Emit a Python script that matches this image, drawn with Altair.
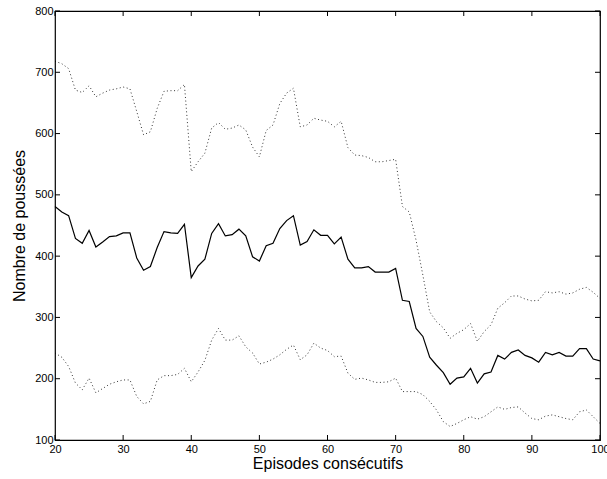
import altair as alt
import pandas as pd

episodes = list(range(20, 101))

mean_vals = [481, 472, 466, 429, 421, 442, 415, 423, 432, 433, 438, 438, 397, 377, 383, 414,
             440, 438, 437, 452, 365, 384, 395, 437, 453, 433, 435, 444, 433, 399, 392, 417,
             421, 445, 458, 466, 418, 424, 443, 434, 434, 420, 431, 395, 381, 381, 383, 374,
             374, 374, 380, 328, 326, 282, 269, 235, 222, 210, 191, 201, 203, 217, 193, 208,
             211, 238, 232, 243, 247, 238, 234, 227, 243, 239, 243, 237, 237, 249, 249, 232, 229]

upper_vals = [718, 714, 706, 671, 667, 678, 660, 666, 671, 673, 676, 673, 636, 598, 603, 641,
              669, 670, 670, 680, 538, 554, 568, 609, 618, 607, 609, 614, 606, 578, 562, 605,
              614, 649, 666, 674, 611, 614, 625, 622, 620, 611, 620, 577, 565, 564, 561, 554,
              554, 556, 558, 481, 472, 426, 369, 309, 293, 283, 266, 274, 280, 290, 261, 277,
              288, 315, 324, 335, 335, 330, 327, 328, 342, 340, 342, 338, 340, 346, 349, 341, 331]

lower_vals = [242, 235, 220, 193, 182, 201, 177, 184, 191, 195, 198, 198, 171, 159, 163, 198,
              205, 205, 207, 217, 195, 211, 230, 263, 282, 263, 263, 270, 252, 242, 224, 227,
              232, 239, 248, 255, 231, 239, 258, 250, 246, 236, 237, 209, 199, 201, 198, 194,
              194, 195, 201, 179, 179, 179, 174, 163, 149, 130, 122, 127, 133, 138, 134, 138,
              146, 154, 150, 153, 154, 144, 135, 133, 139, 141, 138, 135, 133, 146, 149, 138, 127]

x_ticks = [20, 30, 40, 50, 60, 70, 80, 90, 100]
y_ticks = [100, 200, 300, 400, 500, 600, 700, 800]

W, H = 545, 429
FONT = "Liberation Sans"

df = pd.DataFrame({"ep": episodes, "mean": mean_vals, "upper": upper_vals, "lower": lower_vals})
xt = pd.DataFrame({"t": x_ticks})
yt = pd.DataFrame({"t": y_ticks})

xscale = alt.Scale(domain=[20, 100], nice=False, zero=False)
yscale = alt.Scale(domain=[100, 800], nice=False, zero=False)

xaxis = alt.Axis(values=x_ticks, title="Episodes consécutifs", grid=False, domain=False,
                 ticks=False, labelPadding=3, labelFontSize=11, labelFont=FONT,
                 titleFont=FONT, titleFontSize=16, titleFontWeight="normal", titlePadding=1,
                 labelColor="black", titleColor="black", labelFlush=False)
yaxis = alt.Axis(values=y_ticks, title="Nombre de poussées", grid=False, domain=False,
                 ticks=False, labelPadding=2, labelFontSize=11, labelFont=FONT,
                 titleFont=FONT, titleFontSize=16, titleFontWeight="normal", titlePadding=7,
                 labelColor="black", titleColor="black")

base = alt.Chart(df)

mean_line = base.mark_line(color="black", strokeWidth=1.2).encode(
    x=alt.X("ep:Q", scale=xscale, axis=xaxis),
    y=alt.Y("mean:Q", scale=yscale, axis=yaxis),
)
upper_line = base.mark_line(color="black", strokeWidth=1, strokeDash=[1, 2.6], opacity=0.8).encode(
    x=alt.X("ep:Q", scale=xscale), y=alt.Y("upper:Q", scale=yscale))
lower_line = base.mark_line(color="black", strokeWidth=1, strokeDash=[1, 2.6], opacity=0.8).encode(
    x=alt.X("ep:Q", scale=xscale), y=alt.Y("lower:Q", scale=yscale))

tick_len = 5
bottom_ticks = alt.Chart(xt).mark_rule(color="black", strokeWidth=1).encode(
    x=alt.X("t:Q", scale=xscale), y=alt.value(H), y2=alt.value(H - tick_len))
top_ticks = alt.Chart(xt).mark_rule(color="black", strokeWidth=1).encode(
    x=alt.X("t:Q", scale=xscale), y=alt.value(0), y2=alt.value(tick_len))
left_ticks = alt.Chart(yt).mark_rule(color="black", strokeWidth=1).encode(
    y=alt.Y("t:Q", scale=yscale), x=alt.value(0), x2=alt.value(tick_len))
right_ticks = alt.Chart(yt).mark_rule(color="black", strokeWidth=1).encode(
    y=alt.Y("t:Q", scale=yscale), x=alt.value(W), x2=alt.value(W - tick_len))

chart = alt.layer(
    upper_line, lower_line, mean_line, bottom_ticks, top_ticks, left_ticks, right_ticks
).properties(
    width=W, height=H,
    padding={"left": 55, "top": 11, "right": 7, "bottom": 39},
    autosize=alt.AutoSizeParams(type="none"),
    background="white",
).configure_view(stroke="black", strokeWidth=1.2)

chart.save("out.html", embed_options={"renderer": "svg", "actions": False})
